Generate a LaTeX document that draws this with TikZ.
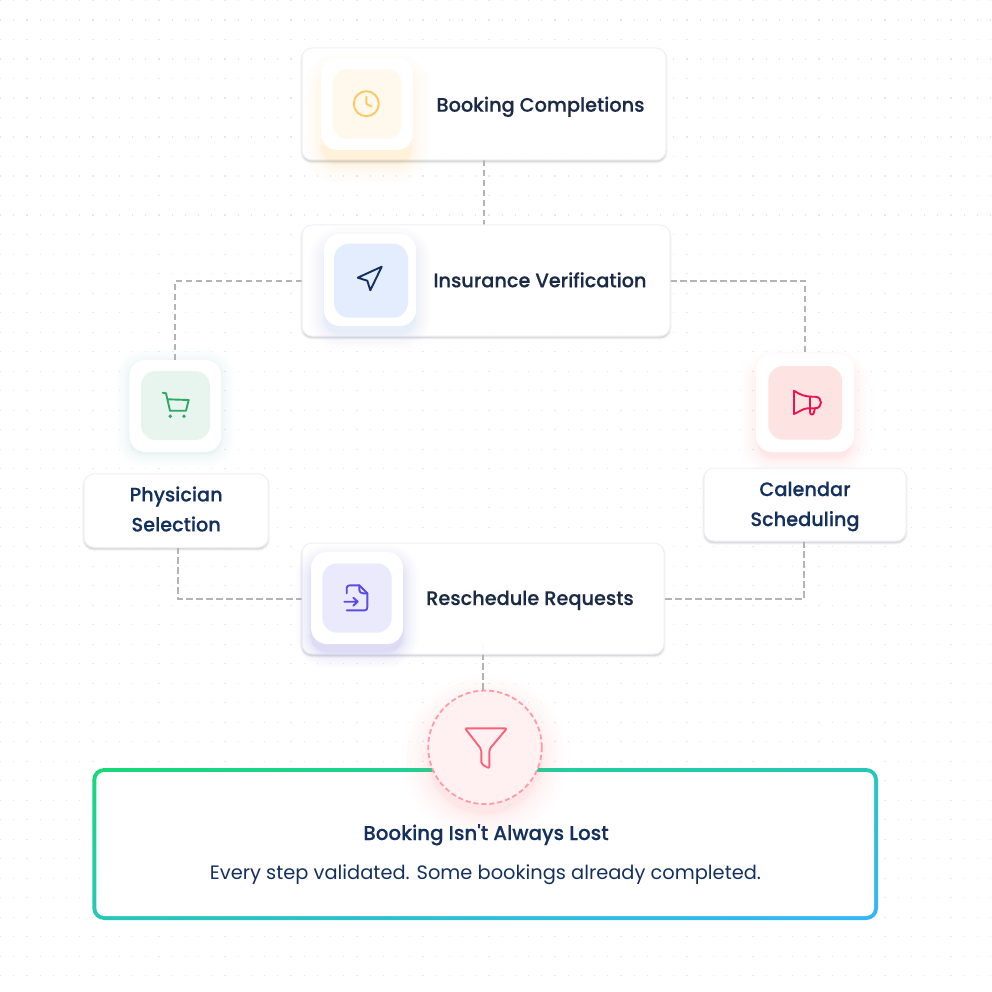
\documentclass[tikz,border=0pt]{standalone}
\usepackage{fontspec}
\setmainfont{Poppins}
\newfontfamily\medf{Poppins}[UprightFont=* Medium,FakeBold=0.3,FakeStretch=0.99]
\usetikzlibrary{backgrounds,calc}
\pgfdeclarelayer{under}\pgfdeclarelayer{dots}\pgfdeclarelayer{conn}
\pgfsetlayers{under,dots,conn,main}
\definecolor{ink}{HTML}{1B2A45}
\definecolor{navy}{HTML}{14305F}
\definecolor{edge}{HTML}{EFF0F6}
\definecolor{conncol}{HTML}{B4B4B4}
\definecolor{dotcol}{HTML}{E6E6E6}
\definecolor{clockbg}{RGB}{255,248,236}
\definecolor{clockfg}{RGB}{253,199,99}
\definecolor{navbg}{RGB}{228,237,253}
\definecolor{cartbg}{RGB}{232,245,238}
\definecolor{cartfg}{RGB}{46,168,102}
\definecolor{megabg}{RGB}{254,227,227}
\definecolor{megafg}{RGB}{240,18,79}
\definecolor{docbg}{RGB}{235,233,252}
\definecolor{docfg}{RGB}{91,75,230}
\definecolor{gradA}{RGB}{23,217,120}
\definecolor{gradB}{RGB}{54,181,248}
\definecolor{funbg}{RGB}{255,240,241}
\definecolor{funedge}{RGB}{255,154,166}
\definecolor{funfg}{RGB}{251,97,120}
\definecolor{glowO}{RGB}{255,190,90}
\definecolor{glowB}{RGB}{130,160,250}
\definecolor{glowG}{RGB}{120,235,180}
\definecolor{glowR}{RGB}{255,140,140}
\definecolor{glowV}{RGB}{130,115,245}
\tikzset{
 every node/.style={inner sep=0pt,outer sep=0pt},
 cardbox/.style={draw=edge,line width=1pt,fill=white,fill opacity=.95,draw opacity=1,rounded corners=10pt},
 tilebox/.style={fill=white,rounded corners=16pt},
 innerbox/.style={rounded corners=15pt},
 title/.style={font=\medf\fontsize{19.5}{30}\selectfont,text=ink,anchor=base},
 labeltext/.style={text=navy,font=\medf\fontsize{19.5}{30}\selectfont,align=center},
 linkline/.style={draw=conncol,line width=2pt,dash pattern=on 6.5pt off 3.5pt},
 icon/.style={line width=1.9pt,line cap=round,line join=round},
}
% x1 y1 x2 y2 radius colour spread opacity
\newcommand\softbox[8]{%
 \foreach \k in {1,...,12}{%
  \pgfmathsetmacro\ee{#7*(1-\k/12)*(1-\k/12)}%
  \pgfmathsetmacro\rr{#5+\ee}%
  \fill[#6,fill opacity=#8,rounded corners=\rr pt] ({#1-\ee},{#2-\ee}) rectangle ({#3+\ee},{#4+\ee});
 }}
% card shadow, then a white knock-out so the shadow never tints the card
\newcommand\cardshadow[4]{%
 \begin{pgfonlayer}{under}
 \softbox{#1}{#2+2}{#3}{#4+2}{10}{black}{2.5}{.012}
 \fill[white,rounded corners=10pt] (#1,#2) rectangle (#3,#4);
 \end{pgfonlayer}}
\begin{document}
\begin{tikzpicture}[x=1pt,y=-1pt]
\useasboundingbox (0,0) rectangle (992,992);
\begin{pgfonlayer}{under}
\fill[white] (0,0) rectangle (992,992);
\end{pgfonlayer}
\begin{pgfonlayer}{dots}
\foreach \i in {0,...,75}{
 \foreach \j in {0,...,50}{
  \fill[dotcol] ({0.0+13.2*\i},{0.0+19.5*\j}) rectangle +(1.2,1.2);
 }}
\end{pgfonlayer}

% card 1
\cardshadow{302}{48}{666}{160}
\node[cardbox,minimum width=364pt,minimum height=112pt] (c1) at (484,104) {};
\softbox{323}{72}{411}{164}{16}{glowO}{22}{.014}
\node[tilebox,minimum width=92pt,minimum height=92pt] (t1) at (367,104) {};
\fill[innerbox,fill=clockbg] (332.3,69.3) rectangle (401.7,138.7);
\node[title] (n1) at (540.5,111.7) {Booking Completions};
\draw[icon,draw=clockfg] (366.3,103.7) circle (12.5);
\draw[icon,draw=clockfg] (366.3,96.7) -- (366.3,103.7) -- (371.6,106.7);

% card 2
\cardshadow{302}{225}{670}{336}
\node[cardbox,minimum width=368pt,minimum height=111pt] (c2) at (486,280.5) {};
\softbox{324}{242}{416}{334}{16}{glowB}{18}{.012}
\node[tilebox,minimum width=92pt,minimum height=92pt] (t2) at (370,280) {};
\fill[innerbox,fill=navbg] (334,243.7) rectangle (408,317.7);
\node[title] (n2) at (540,287.3) {Insurance Verification};
\draw[icon,draw=navy] (381.7,266.7) -- (357.7,277.7) -- (367.3,280.7) -- (370.3,290.3) -- cycle;

% physician tile
\softbox{129.3}{362}{221.3}{454}{16}{glowG}{16}{.012}
\node[tilebox,minimum width=92pt,minimum height=92pt] (t3) at (175.3,406) {};
\fill[innerbox,fill=cartbg] (141,371) rectangle (210,440);
\draw[icon,draw=cartfg] (162.7,392.7) -- (166,393.3) -- (170,410.7) -- (186,410.7) -- (188.7,400) -- (167.5,399.3);
\fill[cartfg] (170.3,416.3) circle (1.9) (184,416.3) circle (1.9);
\cardshadow{84}{474}{268.3}{547.3}
\node[cardbox,minimum width=184.3pt,minimum height=73.3pt] (l1) at (176.2,510.6) {};
\node[labeltext] (l1t) at (176.2,511.6) {Physician\\Selection\vphantom{g}};

% calendar tile
\softbox{758}{366}{852}{458}{16}{glowR}{20}{.014}
\node[tilebox,minimum width=98pt,minimum height=98pt] (t4) at (805,403) {};
\fill[innerbox,fill=megabg] (768.3,366) rectangle (842,439.7);
\draw[icon,draw=megafg]
 (794,390.7) .. controls (800,395) and (806,396.7) .. (812,396.7) -- (815,396.7)
 .. controls (823,396.7) and (823,408.3) .. (815,408.3) -- (807.3,408.3)
 .. controls (802,409) and (799,412) .. (794,414) -- cycle;
\draw[icon,draw=megafg] (810,396.7) -- (810,412) .. controls (810,415.5) and (814,415.5) .. (814,412) -- (815,408.3);
\cardshadow{704}{468}{906}{541}
\node[cardbox,minimum width=202pt,minimum height=73pt] (l2) at (805,504.5) {};
\node[labeltext] (l2t) at (805,506.5) {Calendar\\Scheduling};

% card 5
\cardshadow{302}{543}{664}{654}
\node[cardbox,minimum width=362pt,minimum height=111pt] (c5) at (483,598.5) {};
\softbox{311}{560}{403}{652}{16}{glowV}{18}{.018}
\node[tilebox,minimum width=92pt,minimum height=92pt] (t5) at (357,598) {};
\fill[innerbox,fill=docbg] (322.3,563.3) rectangle (391.7,632.7);
\node[title] (n5) at (530,605) {Reschedule Requests};
\draw[icon,draw=docfg]
 (346.7,593.3) -- (346.7,588) .. controls (346.7,586) and (348,585.3) .. (350,585.3) -- (359.3,585.3) -- (367.3,593.3) -- (367.3,607.3)
 .. controls (367.3,609) and (366.5,610.3) .. (365,610.3) -- (346.7,610.3);
\draw[icon,draw=docfg] (359.3,585.3) -- (359.3,590) .. controls (359.3,592) and (361,593.3) .. (363,593.3) -- (367.3,593.3);
\draw[icon,draw=docfg] (344.3,601.7) -- (357.7,601.7) (353.3,597.7) -- (357.7,601.7) -- (353.3,605.7);

% result box
\begin{scope}
\clip[rounded corners=12pt] (92.3,768) rectangle (878,920);
\shade[transform canvas={rotate around={11:(485.15,844)}},top color=gradA,bottom color=gradB] (-100,695) rectangle (1100,993);
\end{scope}
\fill[white,rounded corners=8pt] (96.3,772) rectangle (874,916);
\node[font=\medf\fontsize{20}{24}\selectfont,text=navy,anchor=base] (rt) at (486,840) {Booking Isn't Always Lost};
\node[font=\fontsize{19.4}{24}\selectfont,text=navy,anchor=base] (rs) at (485.5,879) {Every step validated. Some bookings already completed.};

% funnel
\softbox{428.2}{700.5}{541.8}{814.1}{56.8}{glowR}{32}{.012}
\node[circle,minimum size=113.6pt,fill=funbg,draw=funedge,line width=1.8pt,dash pattern=on 5pt off 3pt] (fun) at (485,747.3) {};
\draw[icon,draw=funfg,rounded corners=2pt] (465,728.3) -- (507,728.3) -- (489.3,749.3) -- (489.3,768.5) -- (481.3,764) -- (481.3,749.3) -- cycle;

% connectors
\begin{pgfonlayer}{conn}
\draw[linkline] (c1.south) -- (c1.south |- c2.north);
\draw[linkline] (c2.west) -| (t3.north);
\draw[linkline] (c2.east) -| (t4.north);
\draw[linkline] ([xshift=1.5pt]l1.south) |- (c5.west);
\draw[linkline] ([xshift=-1pt]l2.south) |- (c5.east);
\draw[linkline] ([yshift=11pt]c5.south) -- (c5.south |- fun.north);
\end{pgfonlayer}
\end{tikzpicture}
\end{document}
